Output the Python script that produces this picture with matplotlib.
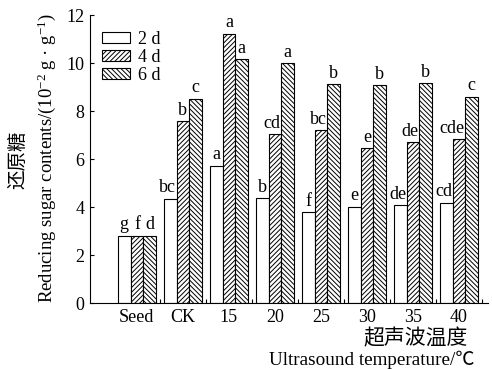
import matplotlib
matplotlib.use("Agg")
import matplotlib.pyplot as plt
import numpy as np

plt.rcParams['font.family'] = ['Liberation Serif', 'Noto Sans CJK SC', 'DejaVu Sans']
plt.rcParams['mathtext.fontset'] = 'custom'
plt.rcParams['mathtext.rm'] = 'Liberation Serif'
plt.rcParams['mathtext.it'] = 'Liberation Serif:italic'
plt.rcParams['hatch.linewidth'] = 0.7

categories = ['Seed', 'CK', '15', '20', '25', '30', '35', '40']
series_names = ['2 d', '4 d', '6 d']
vals_2d = [2.80, 4.35, 5.72, 4.37, 3.78, 4.02, 4.08, 4.18]
vals_4d = [2.80, 7.58, 11.22, 7.04, 7.20, 6.45, 6.70, 6.82]
vals_6d = [2.80, 8.52, 10.16, 9.99, 9.12, 9.08, 9.15, 8.60]
letters_2d = ['g', 'bc', 'a', 'b', 'f', 'e', 'de', 'cd']
letters_4d = ['f', 'b', 'a', 'cd', 'bc', 'e', 'de', 'cde']
letters_6d = ['d', 'c', 'a', 'a', 'b', 'b', 'b', 'c']

fig = plt.figure(figsize=(4.92, 3.69), dpi=100)
ax = fig.add_axes([90/492, 1-303/369, 398/492, 288/369])

x = np.arange(len(categories))
w = 0.276
hatches = ['', '///////', '\\\\\\\\\\\\\\']
series = [vals_2d, vals_4d, vals_6d]
letters = [letters_2d, letters_4d, letters_6d]
for i, (vals, lab, h, let) in enumerate(zip(series, series_names, hatches, letters)):
    pos = x + (i - 1) * w
    ax.bar(pos, vals, width=w, color='white', edgecolor='black', linewidth=0.8,
           hatch=h, label=lab)
    for px, v, t in zip(pos, vals, let):
        if len(t) > 1:
            ax.text(px + w / 2 - 0.01, v + 0.1, t, ha='right', va='bottom', fontsize=13)
        else:
            ax.text(px, v + 0.1, t, ha='center', va='bottom', fontsize=13)

ax.set_xlim(-1.02, 7.63)
ax.set_ylim(0, 12)
ax.set_yticks(np.arange(0, 13, 2))
ax.set_xticks(x)
ax.set_xticklabels(categories, fontsize=13)
ax.set_xticks(np.arange(0.5, 8, 1), minor=True)
ax.tick_params(axis='x', which='major', length=0, pad=4)
ax.tick_params(axis='x', which='minor', direction='in', length=3, width=0.8)
ax.tick_params(axis='y', direction='in', length=3, width=0.8, labelsize=13, pad=4)
for s in ['top', 'right']:
    ax.spines[s].set_visible(False)
for s in ['left', 'bottom']:
    ax.spines[s].set_linewidth(0.8)

leg = ax.legend(loc='upper left', bbox_to_anchor=(0.03, 0.945), frameon=False,
                fontsize=13, handlelength=1.55, handleheight=0.55,
                handletextpad=0.45, labelspacing=0.05, borderpad=0, borderaxespad=0)

fig.text(18/492, 1-160/369, '还原糖', rotation=90, ha='center', va='center',
         fontsize=14, family=['Noto Sans CJK SC'])
fig.text(47/492, 1-158/369, 'Reducing sugar contents/(10$^{-2}$ g · g$^{-1}$)',
         rotation=90, ha='center', va='center', fontsize=13.5)
fig.text(416/492, 1-338/369, '超声波温度', ha='center', va='center',
         fontsize=15, family=['Noto Sans CJK SC'])
fig.text(372/492, 1-360/369, 'Ultrasound temperature/℃', ha='center', va='center',
         fontsize=13.8, family=['Liberation Serif', 'Noto Sans CJK SC', 'DejaVu Sans'])

fig.savefig('out.png', dpi=100)
